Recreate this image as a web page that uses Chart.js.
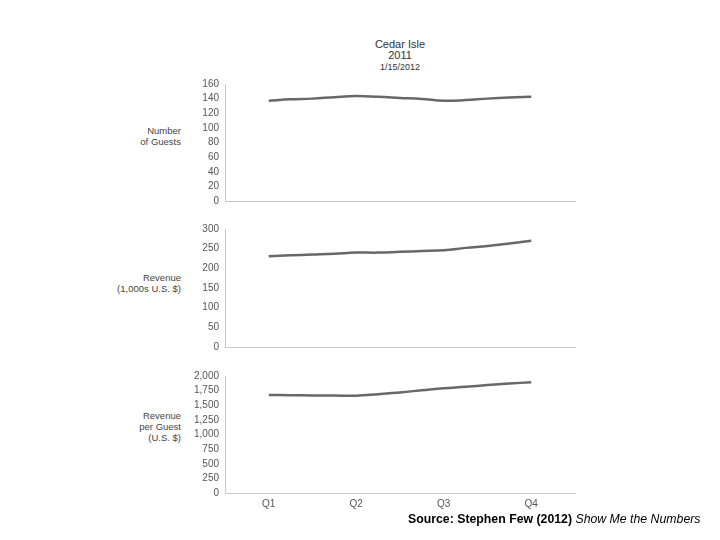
<!DOCTYPE html>
<html>
<head>
<meta charset="utf-8">
<script src="https://cdn.jsdelivr.net/npm/chart.js@4.4.1/dist/chart.umd.min.js"></script>
<style>
  body { margin: 0; background: #fff; width: 720px; height: 540px; position: relative; overflow: hidden; font-family: "Liberation Sans", Arial, sans-serif; }
  .panel { position: absolute; left: 0; width: 720px; }
  .title { position: absolute; left: 300px; width: 200px; text-align: center; color: #333; }
  .ylab { position: absolute; right: 539px; text-align: right; color: #444; font-size: 9.5px; line-height: 11px; white-space: nowrap; }
  .source { position: absolute; left: 408px; top: 512px; font-size: 12.3px; color: #000; white-space: nowrap; }
</style>
</head>
<body>
<div class="title" style="top:39px;font-size:11px;line-height:11px">Cedar Isle<br>2011</div>
<div class="title" style="top:62px;font-size:9px;line-height:10px">1/15/2012</div>

<div class="ylab" style="top:125px">Number<br>of Guests</div>
<div class="ylab" style="top:272px">Revenue<br>(1,000s U.S. $)</div>
<div class="ylab" style="top:410px">Revenue<br>per Guest<br>(U.S. $)</div>

<div class="panel" style="top:72px;height:141px"><canvas id="guests"></canvas></div>
<div class="panel" style="top:217px;height:142px"><canvas id="revenue"></canvas></div>
<div class="panel" style="top:364px;height:149px"><canvas id="perGuest"></canvas></div>

<div class="source"><b>Source: Stephen Few (2012)</b> <i>Show Me the Numbers</i></div>

<script>
// Data (roughly 4-week periods through 2011)
const periods = [0, 1, 2, 3, 4, 5, 6, 7, 8, 9, 10, 11, 12];
const quarterLabels = ['Q1', 'Q2', 'Q3', 'Q4'];
const quarterPositions = [0, 4, 8, 12];

const guests = [137, 139, 140, 142, 143.5, 142.5, 141, 139.5, 137, 138, 140, 141.5, 142.5];
const revenue = [231, 233, 235, 237, 240, 240, 242, 244, 246, 252, 257, 263, 270];
const revenuePerGuest = [1675, 1672, 1668, 1665, 1663, 1690, 1720, 1755, 1790, 1815, 1845, 1870, 1895];

const guestTicks = [0, 20, 40, 60, 80, 100, 120, 140, 160];
const revenueTicks = [0, 50, 100, 150, 200, 250, 300];
const perGuestTicks = [0, 250, 500, 750, 1000, 1250, 1500, 1750, 2000];

const FONT = { family: '"Liberation Sans", Arial, sans-serif', size: 10 };

const makePanel = (id, values, ticks, showX) => {
    const ctx = document.getElementById(id).getContext('2d');
    return new Chart(ctx, {
        type: 'line',
        data: {
            datasets: [{
                data: periods.map((p, i) => ({ x: p, y: values[i] })),
                borderColor: '#686868',
                borderWidth: 2.5,
                tension: 0.4,
                pointRadius: 0,
                fill: false
            }]
        },
        options: {
            responsive: true,
            maintainAspectRatio: false,
            animation: false,
            layout: { padding: { top: 8, right: 145, left: 0, bottom: 0 } },
            plugins: { legend: { display: false }, tooltip: { enabled: false } },
            scales: {
                x: {
                    type: 'linear',
                    min: -2,
                    max: 14,
                    afterBuildTicks: (s) => { s.ticks = quarterPositions.map(v => ({ value: v })); },
                    afterFit: (s) => { s.height = showX ? 20 : 0; },
                    grid: { display: false, drawTicks: false },
                    border: { display: true, color: '#c8c8c8', width: 1 },
                    ticks: {
                        display: showX,
                        padding: 5,
                        color: '#555',
                        font: FONT,
                        maxRotation: 0,
                        autoSkip: false,
                        callback: (v) => quarterLabels[quarterPositions.indexOf(v)] || ''
                    }
                },
                y: {
                    min: ticks[0],
                    max: ticks[ticks.length - 1],
                    afterBuildTicks: (s) => { s.ticks = ticks.map(v => ({ value: v })); },
                    afterFit: (s) => { s.width = 225; },
                    grid: { display: false, drawTicks: false },
                    border: { display: true, color: '#c8c8c8', width: 1 },
                    ticks: {
                        padding: 6,
                        color: '#555',
                        font: FONT,
                        autoSkip: false,
                        callback: (v) => v.toLocaleString('en-US')
                    }
                }
            }
        }
    });
};

makePanel('guests', guests, guestTicks, false);
makePanel('revenue', revenue, revenueTicks, false);
makePanel('perGuest', revenuePerGuest, perGuestTicks, true);
</script>
</body>
</html>
